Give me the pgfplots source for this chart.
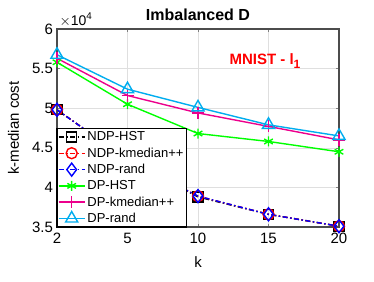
\documentclass[border=0pt]{standalone}
\usepackage{pgfplots}
\pgfplotsset{compat=1.18}
\usepackage{fontspec}
\setmainfont{Liberation Sans}
\begin{document}
\begin{tikzpicture}
\useasboundingbox (0pt,0pt) rectangle (374pt,281pt);
\begin{axis}[
  at={(57pt,54pt)}, anchor=south west,
  width=282pt, height=198pt, scale only axis,
  xmin=0, xmax=4, ymin=35000, ymax=60000,
  xtick={0,1,2,3,4}, xticklabels={2,5,10,15,20},
  ytick={35000,40000,45000,50000,55000,60000},
  scaled y ticks=base 10:-4,
  ytick scale label code/.code={$\times$10\textsuperscript{4}},
  every y tick scale label/.style={at={(0,1)}, anchor=south west, inner sep=0pt, xshift=2pt, yshift=2pt, font=\fontsize{14}{15}\selectfont},
  /pgf/number format/assume math mode=true,
  /pgf/number format/fixed,
  tick label style={font=\fontsize{15}{17}\selectfont},
  xticklabel style={yshift=-2pt},
  grid=major, major grid style={gray!25, line width=0.5pt},
  tick align=inside, major tick length=3pt,
  axis line style={black!70},
  xlabel={k}, ylabel={k-median cost},
  label style={font=\fontsize{15}{17}\selectfont},
  xlabel style={at={(0.5,0)}, anchor=north, yshift=-26pt},
  ylabel style={at={(0,0.5)}, anchor=south, yshift=34pt},
  legend style={at={(0,0)}, anchor=south west, draw=black, fill=white,
     font=\fontsize{13}{14}\selectfont, inner sep=1pt, row sep=1.5pt,
     cells={anchor=west}, outer sep=0pt},
  legend image code/.code={\draw[mark repeat=2,mark phase=2,#1] plot coordinates {(0pt,0pt) (13pt,0pt) (26pt,0pt)};},
  line width=1.4pt,
]
\addplot[black, dash pattern=on 5pt off 2.5pt on 1.5pt off 2.5pt, mark=square, mark size=5pt, mark options={solid}] coordinates {(0,49800) (1,43500) (2,38800) (3,36600) (4,35100)};
\addlegendentry{NDP-HST}
\addplot[red, dash pattern=on 5pt off 2.5pt on 1.5pt off 2.5pt, mark=o, mark size=5.5pt, mark options={solid}] coordinates {(0,49800) (1,43500) (2,38900) (3,36600) (4,35100)};
\addlegendentry{NDP-kmedian++}
\addplot[blue, dash pattern=on 5pt off 2.5pt on 1.5pt off 2.5pt, mark=diamond, mark size=6.5pt, mark options={solid}] coordinates {(0,49800) (1,43500) (2,38900) (3,36600) (4,35100)};
\addlegendentry{NDP-rand}
\addplot[green, mark=asterisk, mark size=5pt] coordinates {(0,55800) (1,50500) (2,46800) (3,45800) (4,44500)};
\addlegendentry{DP-HST}
\addplot[magenta, mark=+, mark size=6pt] coordinates {(0,56300) (1,51600) (2,49400) (3,47700) (4,46000)};
\addlegendentry{DP-kmedian++}
\addplot[cyan, mark=triangle, mark size=7pt] coordinates {(0,56750) (1,52400) (2,50100) (3,47900) (4,46500)};
\addlegendentry{DP-rand}
\node[red, font=\bfseries\fontsize{15}{17}\selectfont] at (axis cs:2.95,55900) {MNIST - l\raisebox{-4pt}{\fontsize{12}{13}\selectfont 1}};
\end{axis}
\node[font=\bfseries\fontsize{16}{18}\selectfont, anchor=south] at (198pt,257pt) {Imbalanced D};
\end{tikzpicture}
\end{document}
